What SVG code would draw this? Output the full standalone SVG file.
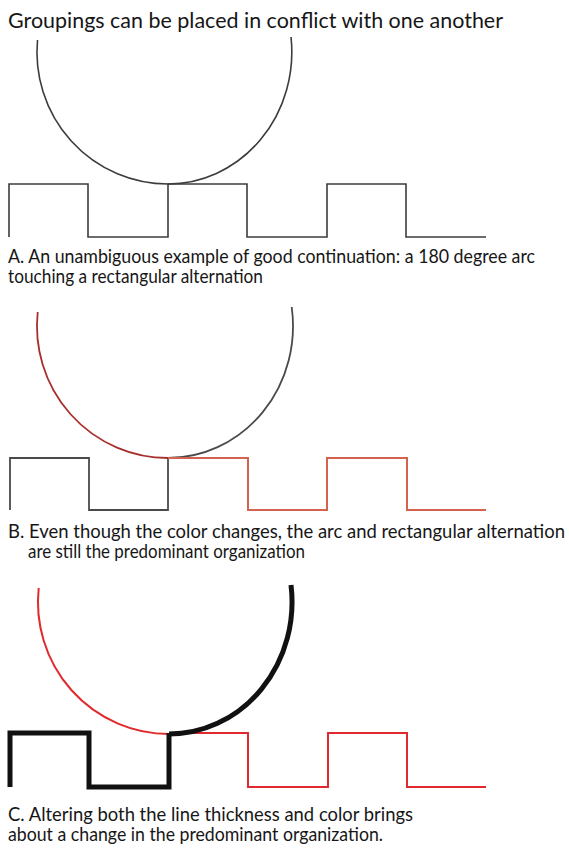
<svg xmlns="http://www.w3.org/2000/svg" width="569" height="852" viewBox="0 0 569 852">
<style>
  .t { font-family: Lato, "Open Sans", "Liberation Sans", sans-serif; fill: #161616; }
  .title { font-size: 22px; }
  .cap { font-size: 19px; }
  .ln { fill: none; stroke-linejoin: miter; stroke-linecap: butt; }
  .g1 { stroke: #3c3c3c; stroke-width: 1.6; }
  .g2 { stroke: #4a4a4a; stroke-width: 1.8; }
  .rb { stroke: #a8302c; stroke-width: 1.8; }
  .rs { stroke: #d4624f; stroke-width: 2; }
  .rc { stroke: #e02a2e; stroke-width: 2; }
  .bk { stroke: #111111; stroke-width: 5; }
</style>
<rect width="569" height="852" fill="#ffffff"/>
<text class="t title" x="8" y="28" textLength="495" lengthAdjust="spacingAndGlyphs">Groupings can be placed in conflict with one another</text>

<g id="panelA">
  <path class="ln g1" d="M37.5,40 A131,132 0 0 0 168,184"/>
  <path class="ln g1" d="M168,184 A124,132 0 0 0 291,37"/>
  <path class="ln g1" d="M9,237 V184 H88 V237 H168 V184 H247 V237 H327 V184 H406 V237 H486"/>
  <text class="t cap" x="8" y="263" textLength="527" lengthAdjust="spacingAndGlyphs">A. An unambiguous example of good continuation: a 180 degree arc</text>
  <text class="t cap" x="8" y="283" textLength="255" lengthAdjust="spacingAndGlyphs">touching a rectangular alternation</text>
</g>

<g id="panelB">
  <path class="ln rb" d="M37.7,312 A131,132 0 0 0 168,458"/>
  <path class="ln g2" d="M168,458 A125,132 0 0 0 291.7,307"/>
  <path class="ln g2" d="M10,510 V458 H89 V510 H168 V458"/>
  <path class="ln rs" d="M168,458 H248 V510 H327 V458 H407 V510 H486"/>
  <text class="t cap" x="8" y="537.5" textLength="557" lengthAdjust="spacingAndGlyphs">B. Even though the color changes, the arc and rectangular alternation</text>
  <text class="t cap" x="28" y="557.5" textLength="277" lengthAdjust="spacingAndGlyphs">are still the predominant organization</text>
</g>

<g id="panelC">
  <path class="ln rc" d="M38.7,588 A131,132 0 0 0 169,734"/>
  <path class="ln rc" d="M169,733 H248 V787 H328 V733 H407 V787 H486"/>
  <path class="ln bk" d="M169,734 A123,132 0 0 0 291,585"/>
  <path class="ln bk" d="M10,787 V733 H89 V787 H169 V733"/>
  <text class="t cap" x="8" y="821" textLength="405" lengthAdjust="spacingAndGlyphs">C. Altering both the line thickness and color brings</text>
  <text class="t cap" x="8" y="841" textLength="375" lengthAdjust="spacingAndGlyphs">about a change in the predominant organization.</text>
</g>
</svg>
